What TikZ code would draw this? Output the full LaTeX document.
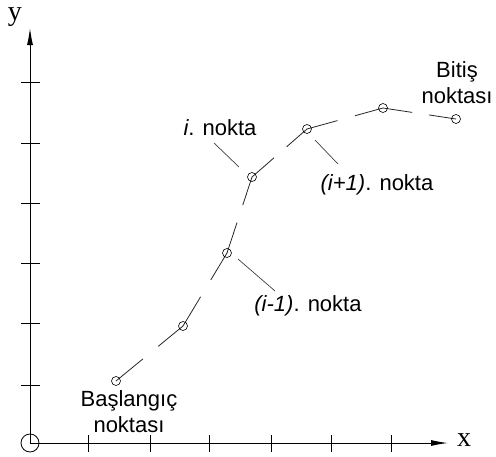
\documentclass[tikz,border=0pt]{standalone}
\usepackage{fontspec}
\setmainfont{Liberation Sans}
\newfontfamily\eksenfont{Liberation Serif}
\usetikzlibrary{arrows.meta,calc}

\begin{document}
\begin{tikzpicture}[x=1pt,y=-1pt,
  nokta/.style={circle,draw,inner sep=0pt,minimum size=9pt,line width=0.6pt},
  etiket/.style={font=\fontsize{22}{26}\selectfont,align=center,inner sep=0pt},
  kilavuz/.style={line width=0.7pt,black!75},
  egri/.style={line width=0.8pt,black!85},
  eksen/.style={line width=1pt,-{Latex[length=17pt,width=6pt]}},
  centik/.style={line width=0.9pt}]
\useasboundingbox (0,0) rectangle (496,456);

% Eksenler
\node[circle,draw,line width=0.8pt,minimum size=18pt,inner sep=0pt] (o) at (30,443) {};
\coordinate (xucu) at (448,443);
\coordinate (yucu) at (30,28);
\draw[eksen] (o.center) -- (xucu);
\draw[eksen] (o.center) -- (yucu);
\node[font=\eksenfont\fontsize{28}{28}\selectfont] (xad) at (464,440) {x};
\node[font=\eksenfont\fontsize{28}{28}\selectfont] (yad) at (15,17) {y};

% Centikler
\foreach \x in {88,150,209,271,331,391}
  \draw[centik] (\x,435) -- (\x,452);
\foreach \y in {82,143,203,263,323,385}
  \draw[centik] (21,\y) -- (40,\y);

% Noktalar
\coordinate (p1) at (116,381);
\coordinate (p2) at (183,326);
\coordinate (p3) at (227,253);
\coordinate (p4) at (252,177);
\coordinate (p5) at (307,129);
\coordinate (p6) at (383,108);
\coordinate (p7) at (456,119);

% Kesikli egri
\foreach \i/\j in {1/2,2/3,3/4,4/5,5/6,6/7}
  \draw[egri] (p\i) -- ($(p\i)!0.4!(p\j)$)
              ($(p\i)!0.63!(p\j)$) -- (p\j);
\foreach \i in {1,...,7}
  \node[nokta] (n\i) at (p\i) {};

% Etiketler
\node[etiket] (bas) at (129,412) {Başlangıç\\noktası};
\node[etiket] (bit) at (457,83) {Bitiş\\noktası};
\node[etiket] (ei) at (220,128) {\textit{i}. nokta};
\node[etiket] (eip) at (377,185) {\textit{(i+1)}. nokta};
\node[etiket] (eim) at (308,306) {\textit{(i-1)}. nokta};

% Kilavuz cizgileri
\coordinate (k1) at (214,143);
\coordinate (k2) at (239,167);
\coordinate (k3) at (315,140);
\coordinate (k4) at (338,164);
\coordinate (k5) at (238,259);
\coordinate (k6) at (275,291);
\draw[kilavuz] (k1) -- (k2);
\draw[kilavuz] (k3) -- (k4);
\draw[kilavuz] (k5) -- (k6);
\end{tikzpicture}
\end{document}
